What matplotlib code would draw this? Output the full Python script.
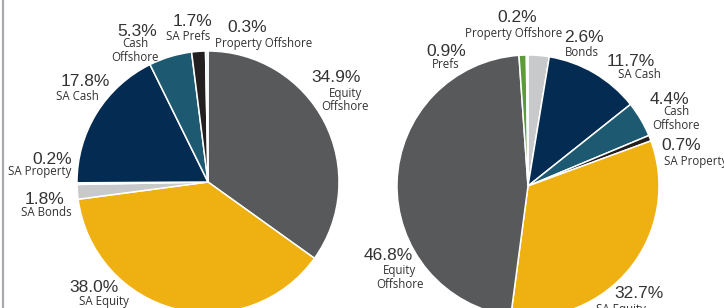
import numpy as np
import matplotlib.pyplot as plt

# canvas size in pixels (dpi 100)
W, H = 724, 308

# left pie, clockwise from 12 o'clock
left_cats = ['Equity Offshore', 'SA Equity', 'SA Bonds', 'SA Property',
             'SA Cash', 'Cash Offshore', 'SA Prefs', 'Property Offshore']
left_vals = [34.9, 38.0, 1.8, 0.2, 17.8, 5.3, 1.7, 0.3]
left_names = ['Equity\nOffshore', 'SA Equity', 'SA Bonds', 'SA Property',
              'SA Cash', 'Cash\nOffshore', 'SA Prefs', 'Property Offshore']

# right pie, clockwise from 12 o'clock
right_cats = ['Bonds', 'SA Cash', 'Cash Offshore', 'SA Property',
              'SA Equity', 'Equity Offshore', 'Prefs', 'Property Offshore']
right_vals = [2.6, 11.7, 4.4, 0.7, 32.7, 46.8, 0.9, 0.2]
right_names = ['Bonds', 'SA Cash', 'Cash\nOffshore', 'SA Property',
               'SA Equity', 'Equity\nOffshore', 'Prefs', 'Property Offshore']

# colours
GRAY = '#58595b'
YELLOW = '#efb112'
LGRAY = '#c8c9cb'
NAVY = '#042c52'
TEAL = '#1d5a71'
BLACK = '#231f20'
GREEN = '#5c9a3a'
LBLUE = '#b7dfec'
VLBLUE = '#d5ebf2'
left_cols = [GRAY, YELLOW, LGRAY, LBLUE, NAVY, TEAL, BLACK, VLBLUE]
right_cols = [LGRAY, NAVY, TEAL, BLACK, YELLOW, GRAY, GREEN, VLBLUE]

# label positions (pixels from top-left): number centre, name centre
left_pos = [((336, 78), (345, 100)), ((94, 288), (104, 302)),
            ((45, 199), (46, 213)), ((52, 159), (40, 172)),
            ((85, 82), (77, 97)), ((137, 31), (135, 50.5)),
            ((192, 21), (188, 36)), ((247, 27), (264, 43))]
right_pos = [((584, 38), (582, 52)), ((631, 62), (639, 75)),
             ((669, 99), (676, 118.5)), ((681, 146), (696, 162)),
             ((639, 294), (621, 309)), ((388, 256), (400, 277.5)),
             ((446, 51), (446, 65)), ((517, 18), (514, 33))]

TXT = '#333333'
NUM_FONT = 'Liberation Sans'
LAB_FONT = 'Open Sans'


def draw_pie(ax, vals, cols, names, pos, centre, r):
    cx, cy = centre
    ax.pie(vals, colors=cols, startangle=90, counterclock=False,
           center=(cx, H - cy), radius=r,
           wedgeprops=dict(edgecolor='white', linewidth=1.1))
    for v, n, (p_num, p_lab) in zip(vals, names, pos):
        ax.text(p_num[0], H - p_num[1], '%.1f%%' % v, ha='center', va='center',
                fontsize=12.5, family=NUM_FONT, color=TXT)
        ax.text(p_lab[0], H - p_lab[1], n, ha='center', va='center',
                fontsize=8.3, family=LAB_FONT, color=TXT, linespacing=1.05)


fig = plt.figure(figsize=(W / 100, H / 100), dpi=100)
ax = fig.add_axes([0, 0, 1, 1])

draw_pie(ax, left_vals, left_cols, left_names, left_pos, (208, 182), 131)
draw_pie(ax, right_vals, right_cols, right_names, right_pos, (528, 186), 131)

# thin border on the left
ax.plot([2.5, 2.5], [0, H], color='#a7a9ac', linewidth=1.6)

ax.set_xlim(0, W)
ax.set_ylim(0, H)
ax.set_aspect('auto')
ax.axis('off')

plt.savefig('out.png', dpi=100)
plt.close()
